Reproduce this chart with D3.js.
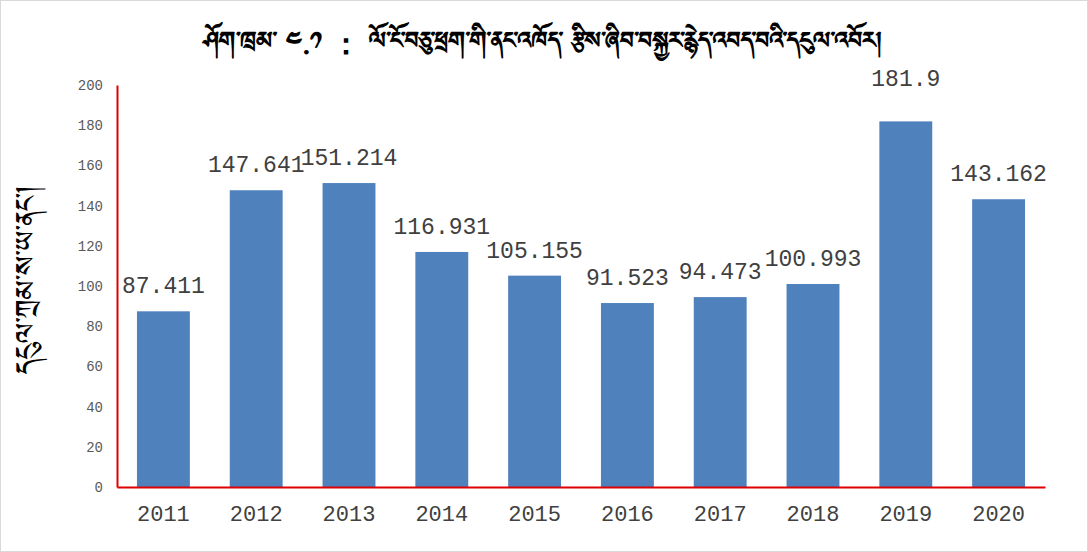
<!DOCTYPE html>
<html><head><meta charset="utf-8">
<script src="https://cdn.jsdelivr.net/npm/d3@7"></script>
<style>
body{margin:0;background:#fff;}
svg{display:block;}
</style></head>
<body>
<script>
const titleText = "ཤོག་ཁྲམ་ ༤.༡ ： ལོ་ངོ་བཅུ་ཕྲག་གི་ནང་འཁོད་ རྩིས་ཞིབ་བསྐྱར་རྙེད་འབད་བའི་དངུལ་འབོར།";
const yLabel = "དངུལ་ཀྲམ་ས་ཡ་ནང་།";
const years = ["2011","2012","2013","2014","2015","2016","2017","2018","2019","2020"];
const values = [87.411,147.641,151.214,116.931,105.155,91.523,94.473,100.993,181.9,143.162];
const labels = ["87.411","147.641","151.214","116.931","105.155","91.523","94.473","100.993","181.9","143.162"];
const yTicks = [0,20,40,60,80,100,120,140,160,180,200];

const W=1088,H=552;
const svg=d3.select("body").append("svg").attr("width",W).attr("height",H);
svg.append("rect").attr("x",0.5).attr("y",0.5).attr("width",W-1).attr("height",H-1)
  .attr("fill","#fff").attr("stroke","#d9d9d9");

const m={l:117,r:1045,t:85,b:487};
const x=d3.scaleBand().domain(years).range([m.l,m.r]).paddingInner(0.43).paddingOuter(0.215);
const y=d3.scaleLinear().domain([0,200]).range([m.b,m.t]);
const tib = "'Noto Sans Tibetan','Jomolhari','Microsoft Himalaya','Noto Serif Tibetan','DejaVu Sans',sans-serif";
const mono = "'Liberation Mono','Courier New',monospace";
const labelNudge = {"2019": -17};

// bars
svg.append("g").selectAll("rect").data(values).join("rect")
  .attr("x",(d,i)=>x(years[i])).attr("width",x.bandwidth())
  .attr("y",d=>y(d)).attr("height",d=>y(0)-y(d)).attr("fill","#4f81bd");

// data labels
svg.append("g").selectAll("text").data(values).join("text")
  .attr("x",(d,i)=>x(years[i])+x.bandwidth()/2)
  .attr("y",(d,i)=>y(d)-18+(labelNudge[years[i]]||0))
  .attr("text-anchor","middle").attr("font-family",mono).attr("font-size",23)
  .attr("fill","#404040").text((d,i)=>labels[i]);

// y axis
const ya=svg.append("g").attr("transform",`translate(${m.l},0)`)
  .call(d3.axisLeft(y).tickValues(yTicks).tickSize(0).tickPadding(14));
ya.select(".domain").attr("stroke","#e00000").attr("stroke-width",2);
ya.selectAll("text").attr("font-family",mono).attr("font-size",14).attr("fill","#595959");

// x axis
const xa=svg.append("g").attr("transform",`translate(0,${m.b})`)
  .call(d3.axisBottom(x).tickSize(0).tickPadding(18));
xa.select(".domain").attr("stroke","#e00000").attr("stroke-width",2);
xa.selectAll("text").attr("font-family",mono).attr("font-size",22).attr("fill","#404040");

// title
svg.append("text").attr("x",543).attr("y",54).attr("text-anchor","middle")
  .attr("font-family",tib).attr("font-size",29.5).attr("font-weight","bold").attr("fill","#000")
  .text(titleText);

// y label
svg.append("text").attr("transform",`translate(42,${(m.t+m.b)/2-6}) rotate(-90)`)
  .attr("text-anchor","middle").attr("font-family",tib).attr("font-size",35).attr("fill","#000")
  .text(yLabel);
</script>
</body></html>
